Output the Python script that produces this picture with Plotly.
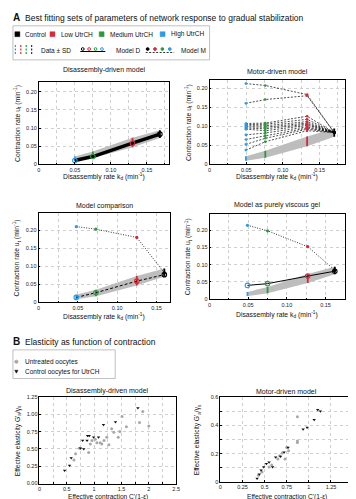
import plotly.graph_objects as go

W, H = 356, 499
FONT = "Liberation Sans, Arial, sans-serif"

# ---------------- data ----------------
groups = ["High UtrCH", "Medium UtrCH", "Low UtrCH", "Control"]
group_colors = ["#2b9be3", "#2a9a3a", "#d42a3a", "#000000"]

data_mean = [0.015, 0.026, 0.060, 0.083]
data_sd = [0.006, 0.009, 0.013, 0.011]

kd_disassembly = [0.050, 0.075, 0.130, 0.168]
kd_motor = [0.0495, 0.076, 0.133, 0.170]
kd_comparison = [0.048, 0.073, 0.125, 0.160]
kd_viscous = [0.049, 0.075, 0.127, 0.162]

modelD_disassembly = [0.010, 0.021, 0.058, 0.083]
modelM_motor_sets = [
    [0.212, 0.207, 0.183, 0.083],
    [0.160, 0.170, 0.180, 0.083],
    [0.107, 0.108, 0.126, 0.083],
    [0.104, 0.105, 0.118, 0.083],
    [0.101, 0.101, 0.112, 0.083],
    [0.098, 0.097, 0.108, 0.083],
    [0.095, 0.093, 0.105, 0.083],
    [0.092, 0.088, 0.102, 0.083],
    [0.077, 0.082, 0.098, 0.083],
    [0.065, 0.075, 0.095, 0.083],
    [0.052, 0.068, 0.092, 0.083],
    [0.037, 0.059, 0.088, 0.083],
]
modelD_comparison = [0.014, 0.027, 0.059, 0.077]
modelM_comparison = [0.210, 0.203, 0.180, 0.082]
modelD_viscous = [0.040, 0.045, 0.067, 0.081]
modelM_viscous = [0.214, 0.198, 0.152, 0.084]

# B: elasticity vs contraction
disB_untreated_x = [0.63, 0.66, 0.73, 0.90, 0.93, 0.96, 1.02, 1.05, 1.11, 1.14, 1.18, 1.23, 1.27,
                    1.32, 1.36, 1.44, 1.47, 1.51, 1.59, 1.83, 1.89, 2.00]
disB_untreated_y = [0.34, 0.43, 0.51, 0.45, 0.57, 0.62, 0.64, 0.59, 0.59, 0.57, 0.62, 0.67, 0.56,
                    0.79, 0.74, 0.67, 0.75, 0.97, 0.82, 0.88, 1.04, 0.83]
disB_control_x = [0.46, 0.55, 0.58, 0.75, 0.79, 0.81, 0.87, 0.88, 0.91, 0.99, 1.08, 1.17, 1.39, 1.80]
disB_control_y = [0.19, 0.26, 0.37, 0.51, 0.62, 0.50, 0.62, 0.69, 0.69, 0.67, 0.67, 0.85, 0.89, 1.09]

motB_untreated_x = [0.43, 0.47, 0.55, 0.58, 0.65, 0.67, 0.70, 0.73, 0.75, 0.77, 0.87, 0.87, 0.87]
motB_untreated_y = [0.047, 0.07, 0.105, 0.12, 0.163, 0.186, 0.205, 0.163, 0.244, 0.22, 0.279, 0.29, 0.461]
motB_control_x = [0.415, 0.44, 0.46, 0.49, 0.52, 0.55, 0.59, 0.625, 0.68, 0.72, 0.765, 0.935, 0.98,
                  1.06, 1.10, 1.13]
motB_control_y = [0.024, 0.055, 0.082, 0.105, 0.128, 0.14, 0.105, 0.175, 0.18, 0.21, 0.244, 0.372,
                  0.384, 0.44, 0.51, 0.50]

kd_tick_vals = [0, 0.05, 0.10, 0.15]
kd_tick_text = ["0", "0.05", "0.10", "0.15"]
ut_tick_vals = [0, 0.05, 0.10, 0.15, 0.20]
ut_tick_text = ["0", "0.05", "0.10", "0.15", "0.20"]
ut_tick_vals_wide = [0, 0.05, 0.10, 0.15, 0.20, 0.25]
ut_tick_text_wide = ["0", "0.05", "0.10", "0.15", "0.20", "0.25"]
disB_x_ticks = [0, 0.5, 1, 1.5, 2, 2.5]
disB_x_text = ["0", "0.5", "1", "1.5", "2", "2.5"]
disB_y_ticks = [0, 0.25, 0.5, 0.75, 1.0, 1.25]
disB_y_text = ["0.00", "0.25", "0.50", "0.75", "1.00", "1.25"]
motB_x_ticks = [0, 0.25, 0.5, 0.75, 1, 1.25, 1.5]
motB_x_text = ["0", "0.25", "0.5", "0.75", "1", "1.25", "1.5"]
motB_y_ticks = [0, 0.2, 0.4, 0.6]
motB_y_text = ["0", "0.2", "0.4", "0.6"]

# ---------------- layout helpers ----------------
def X(px):
    return px / W


def Y(py):
    return 1 - py / H


panels = {
    1: dict(l=29.3, r=162, t=72, b=155),
    2: dict(l=203, r=341, t=70, b=155),
    3: dict(l=29, r=162.6, t=204, b=295),
    4: dict(l=203, r=341, t=205, b=291.7),
    5: dict(l=30, r=169, t=390.7, b=478.3),
    6: dict(l=214, r=349, t=390.7, b=476.7),
}

fig = go.Figure()

GRIDCOL = "#cfcfcf"


def axis_common(minor_dtick=None):
    d = dict(showline=True, linecolor="black", linewidth=0.8, mirror=True,
             ticks="inside", ticklen=2, tickcolor="black", zeroline=False,
             showgrid=True, gridcolor=GRIDCOL, griddash="dot", gridwidth=0.7,
             tickfont=dict(size=5.5, family=FONT, color="#222"))
    if minor_dtick:
        d["minor"] = dict(dtick=minor_dtick, tick0=0, showgrid=True, gridcolor=GRIDCOL,
                          griddash="dot", gridwidth=0.7, ticks="inside", ticklen=1.5,
                          tickcolor="black")
    return d


def set_axes(i, xr, yr, xvals, xtext, yvals, ytext, xminor=None, yminor=None):
    p = panels[i]
    xa = axis_common(xminor)
    xa.update(domain=[X(p["l"]), X(p["r"])], range=xr, tickvals=xvals, ticktext=xtext,
              anchor="y" if i == 1 else f"y{i}", fixedrange=True)
    ya = axis_common(yminor)
    ya.update(domain=[Y(p["b"]), Y(p["t"])], range=yr, tickvals=yvals, ticktext=ytext,
              anchor="x" if i == 1 else f"x{i}", fixedrange=True)
    fig.layout["xaxis" if i == 1 else f"xaxis{i}"] = xa
    fig.layout["yaxis" if i == 1 else f"yaxis{i}"] = ya


def ax(i):
    return ("x", "y") if i == 1 else (f"x{i}", f"y{i}")


set_axes(1, [0, 0.181], [0, 0.227], kd_tick_vals, kd_tick_text, ut_tick_vals, ut_tick_text,
         xminor=0.025)
set_axes(2, [0, 0.185], [0, 0.221], kd_tick_vals, kd_tick_text, ut_tick_vals, ut_tick_text,
         xminor=0.025)
set_axes(3, [0, 0.167], [0, 0.249], kd_tick_vals, kd_tick_text, ut_tick_vals_wide,
         ut_tick_text_wide, xminor=0.025)
set_axes(4, [0, 0.1755], [0, 0.248], kd_tick_vals, kd_tick_text, ut_tick_vals_wide,
         ut_tick_text_wide, xminor=0.025)
set_axes(5, [0, 2.5], [0, 1.25], disB_x_ticks, disB_x_text, disB_y_ticks, disB_y_text,
         xminor=0.25)
set_axes(6, [0, 1.5], [0, 0.6], motB_x_ticks, motB_x_text, motB_y_ticks, motB_y_text,
         yminor=0.1)


def add_data(i, kd):
    xa, ya = ax(i)
    upper = [m + s for m, s in zip(data_mean, data_sd)]
    lower = [m - s for m, s in zip(data_mean, data_sd)]
    fig.add_trace(go.Scatter(x=kd + kd[::-1], y=upper + lower[::-1], fill="toself",
                             fillcolor="#bdbdbd", line=dict(width=0), mode="lines",
                             hoverinfo="skip", xaxis=xa, yaxis=ya))
    for k, m, s, c in zip(kd, data_mean, data_sd, group_colors):
        fig.add_trace(go.Scatter(x=[k], y=[m], mode="markers",
                                 marker=dict(size=1, color=c),
                                 error_y=dict(type="data", array=[s], color=c,
                                              thickness=1.8, width=0),
                                 xaxis=xa, yaxis=ya))


def add_modelD(i, kd, vals, dash="solid", width=1.0):
    xa, ya = ax(i)
    fig.add_trace(go.Scatter(x=kd, y=vals, mode="lines+markers",
                             line=dict(color="black", width=width, dash=dash),
                             marker=dict(symbol="circle-open", size=4.5, color=group_colors,
                                         line=dict(width=1.1)),
                             xaxis=xa, yaxis=ya))


def add_modelM(i, kd, vals, dash="dot", size=3.2, width=0.8):
    xa, ya = ax(i)
    fig.add_trace(go.Scatter(x=kd, y=vals, mode="lines+markers",
                             line=dict(color="black", width=width, dash=dash),
                             marker=dict(symbol="circle", size=size, color=group_colors),
                             xaxis=xa, yaxis=ya))


# Panel 1: disassembly-driven
add_data(1, kd_disassembly)
add_modelD(1, kd_disassembly, modelD_disassembly, width=3.5)

# Panel 2: motor-driven
add_data(2, kd_motor)
for s in modelM_motor_sets:
    add_modelM(2, kd_motor, s, dash="2px,1.5px", size=2.6, width=0.7)

# Panel 3: comparison
add_data(3, kd_comparison)
add_modelD(3, kd_comparison, modelD_comparison, dash="3px,2px")
add_modelM(3, kd_comparison, modelM_comparison, dash="1px,1.5px")

# Panel 4: purely viscous
add_data(4, kd_viscous)
add_modelD(4, kd_viscous, modelD_viscous, dash="solid")
add_modelM(4, kd_viscous, modelM_viscous, dash="1px,1.5px")

# Panel B
for i, ux, uy, cx, cy in [(5, disB_untreated_x, disB_untreated_y, disB_control_x, disB_control_y),
                          (6, motB_untreated_x, motB_untreated_y, motB_control_x, motB_control_y)]:
    xa, ya = ax(i)
    fig.add_trace(go.Scatter(x=ux, y=uy, mode="markers",
                             marker=dict(symbol="circle", size=3, color="#a8a8a8"),
                             xaxis=xa, yaxis=ya))
    fig.add_trace(go.Scatter(x=cx, y=cy, mode="markers",
                             marker=dict(symbol="triangle-down", size=3, color="#111"),
                             xaxis=xa, yaxis=ya))

# ---------------- annotations ----------------
anns = []


def ann(text, x, y, size=7, xanchor="center", yanchor="middle", angle=0, color="#111"):
    anns.append(dict(text=text, x=X(x), y=Y(y), xref="paper", yref="paper",
                     xanchor=xanchor, yanchor=yanchor, showarrow=False, textangle=angle,
                     font=dict(size=size, family=FONT, color=color)))


ann("<b>A</b>", 1, 7, size=10, xanchor="left")
ann("Best fitting sets of parameters of network response to gradual stabilization", 13, 7,
    size=8.5, xanchor="left")
ann("<b>B</b>", 1, 335, size=10, xanchor="left")
ann("Elasticity as function of contraction", 13, 335, size=8.5, xanchor="left")

titles = {1: ("Disassembly-driven model", 60), 2: ("Motor-driven model", 61),
          3: ("Model comparison", 197), 4: ("Model as purely viscous gel", 196),
          5: ("Disassembly-driven model", 385), 6: ("Motor-driven model", 385)}
for i, (t, yy) in titles.items():
    p = panels[i]
    ann(t, (p["l"] + p["r"]) / 2, yy, size=7)

kd_title = "Disassembly rate k<sub>d</sub> (min<sup>-1</sup>)"
ut_title = "Contraction rate u<sub>t</sub> (min<sup>-1</sup>)"
xt_pos = {1: 168, 2: 168, 3: 309, 4: 307}
yt_pos = {1: 7, 2: 181, 3: 7, 4: 181}
for i in range(1, 5):
    p = panels[i]
    ann(kd_title, (p["l"] + p["r"]) / 2, xt_pos[i], size=6.8)
    ann(ut_title, yt_pos[i], (p["t"] + p["b"]) / 2, size=6.8, angle=-90)

for i, xt, yt in [(5, 492, 8), (6, 492, 191)]:
    p = panels[i]
    ann("Effective contraction C'(1-ε)", (p["l"] + p["r"]) / 2, xt, size=6.6)
    ann("Effective elasticity G'<sub>a</sub>/γ<sub>s</sub>", yt, (p["t"] + p["b"]) / 2,
        size=6.6, angle=-90)

# legend A texts
ann("Control", 13.5, 23.5, size=6.5, xanchor="left")
ann("Low UtrCH", 50, 23.5, size=6.5, xanchor="left")
ann("Medium UtrCH", 99.5, 23.5, size=6.5, xanchor="left")
ann("High UtrCH", 161.5, 23.5, size=6.5, xanchor="left")
ann("Data ± SD", 29, 39.5, size=6.5, xanchor="left")
ann("Model D", 106, 39.5, size=6.5, xanchor="left")
ann("Model M", 171.5, 39.5, size=6.5, xanchor="left")
# legend B texts
ann("Untreated oocytes", 13, 355, size=6.5, xanchor="left")
ann("Control oocytes for UtrCH", 13, 365, size=6.5, xanchor="left")

# ---------------- legend shapes ----------------
shapes = []


def rect(x0, y0, x1, y1, fill=None, line="#b0b0b0", lw=0.8):
    shapes.append(dict(type="rect", xref="paper", yref="paper", x0=X(x0), x1=X(x1),
                       y0=Y(y1), y1=Y(y0), fillcolor=fill or "rgba(0,0,0,0)",
                       line=dict(color=line, width=lw)))


def seg(x0, y0, x1, y1, color, width=1, dash="solid"):
    shapes.append(dict(type="line", xref="paper", yref="paper", x0=X(x0), x1=X(x1),
                       y0=Y(y0), y1=Y(y1), line=dict(color=color, width=width, dash=dash)))


def circ(cx, cy, r, color, filled):
    shapes.append(dict(type="circle", xref="paper", yref="paper", x0=X(cx - r), x1=X(cx + r),
                       y0=Y(cy + r), y1=Y(cy - r),
                       fillcolor=color if filled else "white",
                       line=dict(color=color, width=1)))


rect(3, 15, 203, 49.5)
legend_order = ["#000000", "#d42a3a", "#2a9a3a", "#2b9be3"]
for x0, c in zip([5, 40.7, 90.7, 152.7], legend_order):
    rect(x0, 21, x0 + 5, 26, fill=c, line=c, lw=0.5)
for x0, c in zip([5.5, 11, 16.5, 22], ["#2b9be3", "#d42a3a", "#2a9a3a", "#333333"]):
    seg(x0, 34.5, x0, 44.5, c, width=1.2, dash="2px,1.5px")
seg(71.5, 41, 97, 41, "black", width=1)
for cx, c in zip([74, 80.5, 87, 93.5], legend_order):
    circ(cx, 38.5, 1.4, c, False)
seg(138, 42, 167, 42, "black", width=0.8, dash="2px,1.5px")
for cx, c in zip([140, 147.5, 155, 162.5], legend_order):
    circ(cx, 38.5, 1.4, c, True)

rect(3, 343, 107, 372)
circ(6.5, 355, 1.6, "#a8a8a8", True)
shapes.append(dict(type="path", xref="paper", yref="paper",
                   path=f"M {X(4.8)} {Y(363.6)} L {X(8.2)} {Y(363.6)} L {X(6.5)} {Y(366.6)} Z",
                   fillcolor="#111", line=dict(color="#111", width=0.5)))

fig.update_layout(width=W, height=H, margin=dict(l=0, r=0, t=0, b=0),
                  paper_bgcolor="white", plot_bgcolor="white", showlegend=False,
                  annotations=anns, shapes=shapes, font=dict(family=FONT))

fig.write_html("out.html")
